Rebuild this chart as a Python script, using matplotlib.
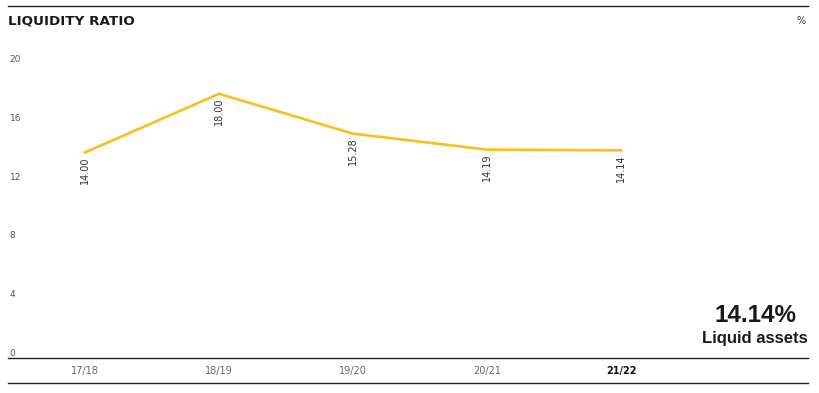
import matplotlib
matplotlib.use("Agg")
import matplotlib.pyplot as plt
from matplotlib.transforms import blended_transform_factory, offset_copy
from matplotlib.lines import Line2D

categories = ["17/18", "18/19", "19/20", "20/21", "21/22"]
values = [14.00, 18.00, 15.28, 14.19, 14.14]
value_labels = ["14.00", "18.00", "15.28", "14.19", "14.14"]
yticks = [0, 4, 8, 12, 16, 20]

W, H = 819, 393
fig = plt.figure(figsize=(W / 100, H / 100), dpi=100)
plt.rcParams['font.family'] = ['DejaVu Sans']

left, right = 8 / W, 808 / W
bottom = 1 - 357.5 / H
top = 1 - 64.5 / H
ax = fig.add_axes([left, bottom, right - left, top - bottom])
ax.set_xlim(-0.575, 5.395)
ax.set_ylim(0, 20)
ax.axis('off')

line_color = "#F9C01A"
xs = list(range(len(categories)))
ax.plot(xs, values, color=line_color, lw=1.9, solid_joinstyle='miter')

for x, v, lab in zip(xs, values, value_labels):
    tr = offset_copy(ax.transData, fig=fig, x=0, y=-4, units='dots')
    ax.text(x, v, lab, transform=tr, rotation=90, ha='center', va='top',
            fontsize=7, color="#333333")

# y tick labels
btr = blended_transform_factory(ax.transAxes, ax.transData)
for t in yticks:
    ax.text(0.002, t, str(t), transform=btr, ha='left', va='bottom',
            fontsize=6.5, color="#555555")

# x tick labels
xtr = blended_transform_factory(ax.transData, fig.transFigure)
for x, c in zip(xs, categories):
    bold = (c == categories[-1])
    ax.text(x, 1 - 371 / H, c, transform=xtr, ha='center', va='center',
            fontsize=7, color="#111111" if bold else "#666666",
            fontweight='bold' if bold else 'normal')

# lines
for ypix in (6, 358, 383):
    fig.add_artist(Line2D([left, right], [1 - ypix / H, 1 - ypix / H],
                          transform=fig.transFigure, color="#222222", lw=1))

fig.text(8 / W, 1 - 21 / H, "LIQUIDITY RATIO", ha='left', va='center',
         fontsize=9.7, fontweight='bold', color="#1a1a1a")
fig.text(806 / W, 1 - 21 / H, "%", ha='right', va='center', fontsize=7,
         color="#333333")

fig.text(796 / W, 1 - 316 / H, "14.14%", ha='right', va='center',
         fontsize=17.5, fontweight='bold', color="#1a1a1a",
         family=['Liberation Sans', 'DejaVu Sans'])
fig.text(808 / W, 1 - 338 / H, "Liquid assets", ha='right', va='center',
         fontsize=12, fontweight='bold', color="#1a1a1a",
         family=['Liberation Sans', 'DejaVu Sans'])

fig.savefig("out.png", dpi=100)
